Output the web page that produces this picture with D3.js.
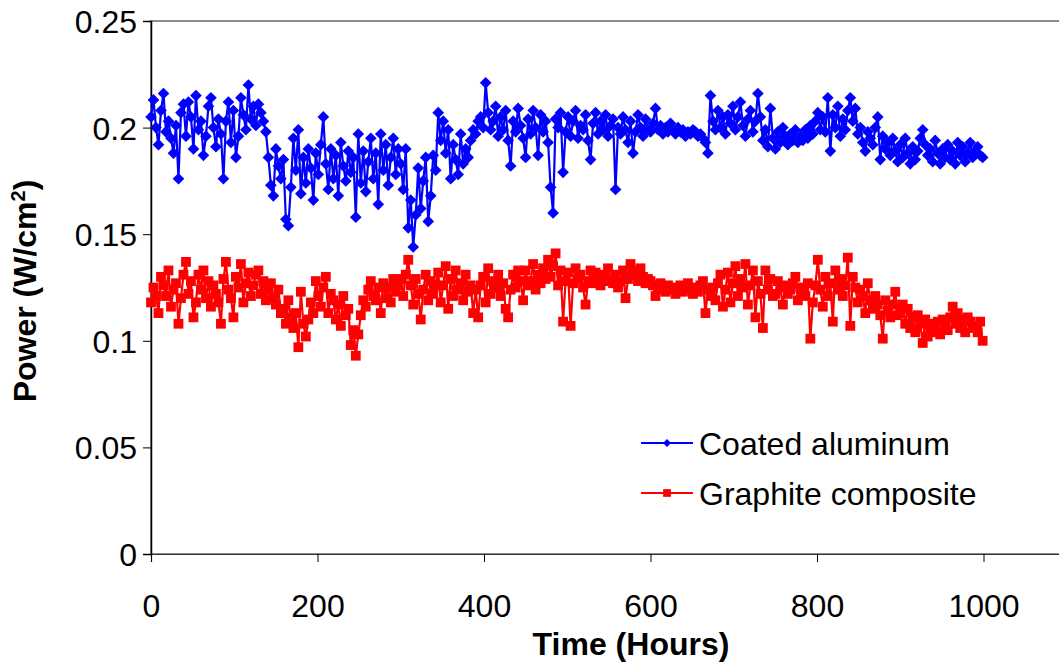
<!DOCTYPE html>
<html>
<head>
<meta charset="utf-8">
<script src="https://cdn.jsdelivr.net/npm/d3@7"></script>
<style>
  html, body { margin: 0; padding: 0; background: #fff; }
  svg { display: block; }
  text { font-family: Arial, "Liberation Sans", sans-serif; fill: #000; }
</style>
</head>
<body>
<svg id="chart" width="1059" height="664"></svg>
<script>
// Elapsed test time (hours) of each recorded sample
const hours = [
  0,3,6,9,12,15,18,21,24,27, 30,33,36,39,42,45,48,51,54,57,
  60,63,66,69,72,75,78,81,84,87, 90,93,96,99,102,105,108,111,114,117,
  120,123,126,129,132,135,138,141,144,147, 150,153,156,159,162,165,168,171,174,177,
  180,183,186,189,192,195,198,201,204,207, 210,213,216,219,222,225,228,231,234,237,
  240,243,246,249,252,255,258,261,264,267, 270,273,276,279,282,285,288,291,294,297,
  300,303,306,309,312,315,318,321,324,327, 330,333,336,339,342,345,348,351,354,357,
  360,363,366,369,372,375,378,381,384,387, 390,393,396,399,402,405,408,411,414,417,
  420,423,426,429,432,435,438,441,444,447, 450,453,456,459,462,465,468,471,474,477,
  480,483,486,489,492,495,498,501,504,507, 510,513,516,519,522,525,528,531,534,537,
  540,543,546,549,552,555,558,561,564,567, 570,573,576,579,582,585,588,591,594,597,
  600,603,606,609,612,615,618,621,624,627, 630,633,636,639,642,645,648,651,654,657,
  660,663,666,669,672,675,678,681,684,687, 690,693,696,699,702,705,708,711,714,717,
  720,723,726,729,732,735,738,741,744,747, 750,753,756,759,762,765,768,771,774,777,
  780,783,786,789,792,795,798,801,804,807, 810,813,816,819,822,825,828,831,834,837,
  840,843,846,849,852,855,858,861,864,867, 870,873,876,879,882,885,888,891,894,897,
  900,903,906,909,912,915,918,921,924,927, 930,933,936,939,942,945,948,951,954,957,
  960,963,966,969,972,975,978,981,984,987, 990,993,996,999
];

// Power density of the coated aluminum plate stack, in mW/cm2
const coatedAluminum = [
  205,213,200,192,208,216,198,203,195,188, 201,176,207,211,196,212,205,190,215,199,
  203,187,196,210,214,200,191,204,197,176, 203,212,193,208,186,196,214,206,199,220,
  204,210,201,211,207,203,198,186,173,168, 190,182,176,185,157,154,172,195,180,199,
  169,186,174,190,181,166,188,178,192,205, 183,171,190,176,187,168,193,182,175,189,
  179,186,158,197,174,189,170,184,195,176, 188,164,197,180,192,173,186,195,178,190,
  183,171,190,153,166,144,159,181,162,175, 186,156,168,187,180,207,194,203,188,199,
  176,192,185,178,197,183,190,186,194,199, 197,203,205,200,221,207,199,203,210,196,
  205,199,208,194,182,203,198,209,201,195, 186,204,197,208,200,187,206,198,203,193,
  172,160,204,200,207,179,198,205,196,203, 208,195,201,199,206,194,185,202,207,197,
  203,199,206,196,201,204,171,200,197,205, 199,193,203,188,198,206,200,196,204,199,
  198,202,209,199,201,197,200,198,202,199, 197,200,198,199,196,198,197,199,198,196,
  197,195,193,188,215,203,199,208,200,205, 197,206,202,210,199,205,212,201,196,204,
  208,198,203,216,205,194,199,191,209,195, 190,198,193,200,196,192,197,194,199,193,
  196,194,199,195,201,197,203,207,199,205, 198,214,189,206,200,210,196,204,199,208,
  214,203,209,197,200,193,189,198,195,192, 200,205,185,196,190,193,187,195,189,184,
  192,186,195,188,183,191,185,189,195,199, 192,187,190,184,194,188,183,190,186,192,
  185,189,183,193,187,191,184,188,193,186, 189,191,187,186
];

// Power density of the graphite composite plate stack, in mW/cm2
const graphiteComposite = [
  118,125,121,113,130,126,121,133,116,124, 127,108,120,131,137,122,128,111,118,131,
  124,133,120,128,116,126,122,118,108,129, 137,124,120,111,130,125,136,118,127,132,
  121,126,131,133,122,128,119,124,127,120, 117,124,113,115,108,119,111,106,113,97,
  123,108,102,110,118,113,128,121,116,125, 130,113,122,119,110,117,107,121,112,115,
  98,105,93,103,112,119,116,124,128,121, 119,125,113,127,120,125,118,129,123,126,
  129,121,131,138,126,117,129,122,110,124, 131,119,128,122,126,132,118,126,135,115,
  129,121,133,124,127,119,131,123,126,113, 124,111,126,130,118,134,122,128,125,131,
  121,127,115,111,124,131,125,133,128,119, 133,126,128,136,124,131,127,134,129,138,
  130,135,141,126,133,109,128,132,107,127, 134,129,131,125,117,128,133,127,132,130,
  126,131,128,134,129,127,131,125,128,133, 120,129,136,133,131,128,134,130,127,129,
  128,126,121,124,127,125,123,126,124,125, 122,124,126,123,125,127,124,122,125,123,
  126,128,113,124,121,125,119,127,131,116, 124,132,118,127,135,121,129,125,136,117,
  126,133,111,128,122,106,133,124,129,121, 122,128,125,117,126,122,124,127,130,119,
  125,123,121,127,101,118,126,138,124,116, 130,121,127,109,133,124,129,121,126,139,
  107,130,125,118,124,121,113,127,119,115, 121,117,112,101,119,114,111,117,123,112,
  113,117,108,115,106,111,104,112,108,99, 110,102,106,108,104,109,103,110,107,105,
  111,116,108,113,106,110,104,111,109,106, 107,104,109,100
];

const seriesNames = ["Coated aluminum", "Graphite composite"];
const xTicks = [0, 200, 400, 600, 800, 1000];
const yTicks = [0, 0.05, 0.1, 0.15, 0.2, 0.25];
const yTickLabels = ["0", "0.05", "0.1", "0.15", "0.2", "0.25"];

const svg = d3.select("#chart");
const plotLeft = 151, plotTop = 21, plotBottom = 554;
const fontSize = "32px";

// Time axis runs past the visible right edge (to 1200 h)
const x = d3.scaleLinear().domain([0, 1200]).range([plotLeft, plotLeft + 1200 * 0.8325]);
const y = d3.scaleLinear().domain([0, 0.25]).range([plotBottom, plotTop]);

// Plot-area frame
svg.append("rect")
  .attr("x", plotLeft).attr("y", plotTop)
  .attr("width", x(1200) - plotLeft).attr("height", plotBottom - plotTop)
  .attr("fill", "none").attr("stroke", "#8c8c8c").attr("stroke-width", 2);

// Y axis
const yAxis = svg.append("g")
  .attr("transform", `translate(${plotLeft},0)`)
  .call(d3.axisLeft(y).tickValues(yTicks).tickSize(8).tickPadding(6)
    .tickFormat((d, i) => yTickLabels[i]));
yAxis.select(".domain").attr("stroke", "#000").attr("stroke-width", 1.5);
yAxis.selectAll(".tick line").attr("stroke", "#000");
yAxis.selectAll(".tick text").style("font-size", fontSize).attr("dy", "0.36em");

// X axis
const xAxis = svg.append("g")
  .attr("transform", `translate(0,${plotBottom})`)
  .call(d3.axisBottom(x).tickValues(xTicks).tickSize(8).tickPadding(0)
    .tickFormat(d3.format("d")));
xAxis.select(".domain").attr("stroke", "#333").attr("stroke-width", 1.2);
xAxis.selectAll(".tick line").attr("stroke", "#000");
xAxis.selectAll(".tick text").style("font-size", fontSize).attr("y", 63).attr("dy", 0);

// Axis titles
svg.append("text")
  .attr("x", 631).attr("y", 655)
  .attr("text-anchor", "middle")
  .style("font-size", fontSize).style("font-weight", "bold")
  .text("Time (Hours)");

const yTitle = svg.append("text")
  .attr("transform", "translate(36,291) rotate(-90)")
  .attr("text-anchor", "middle")
  .style("font-size", fontSize).style("font-weight", "bold");
yTitle.append("tspan").text("Power (W/cm");
yTitle.append("tspan").attr("dy", "-11").style("font-size", "20px").text("2");
yTitle.append("tspan").attr("dy", "11").text(")");

// Series: connecting line, then one marker per sample (values in mW/cm2)
const line = d3.line().x(d => x(d[0])).y(d => y(d[1]));

function markerPath(size) {
  return d3.symbol().type(d3.symbolSquare).size(size)();
}
function markerTransform(kind, px, py) {
  return `translate(${px},${py})` + (kind === "diamond" ? " rotate(45)" : "");
}

function drawSeries(values, color, kind, size) {
  const pts = hours.map((h, i) => [h, values[i] / 1000]);
  const g = svg.append("g");
  g.append("path").datum(pts)
    .attr("d", line).attr("fill", "none")
    .attr("stroke", color).attr("stroke-width", 2.2).attr("stroke-linejoin", "round");
  g.selectAll("path.m").data(pts).join("path")
    .attr("class", "m")
    .attr("d", markerPath(size))
    .attr("transform", d => markerTransform(kind, x(d[0]), y(d[1])))
    .attr("fill", color);
}
drawSeries(coatedAluminum, "#0000ff", "diamond", 68);
drawSeries(graphiteComposite, "#ff0000", "square", 96);

// Legend
const legend = [
  { name: seriesNames[0], color: "#0000ff", kind: "diamond", size: 32, ly: 443, ty: 455 },
  { name: seriesNames[1], color: "#ff0000", kind: "square", size: 60, ly: 493, ty: 505 }
];
const lg = svg.append("g");
legend.forEach(l => {
  lg.append("line").attr("x1", 641).attr("x2", 693).attr("y1", l.ly).attr("y2", l.ly)
    .attr("stroke", l.color).attr("stroke-width", 2);
  lg.append("path")
    .attr("transform", markerTransform(l.kind, 667, l.ly))
    .attr("d", markerPath(l.size))
    .attr("fill", l.color);
  lg.append("text").attr("x", 699).attr("y", l.ty)
    .style("font-size", fontSize).text(l.name);
});
</script>
</body>
</html>
